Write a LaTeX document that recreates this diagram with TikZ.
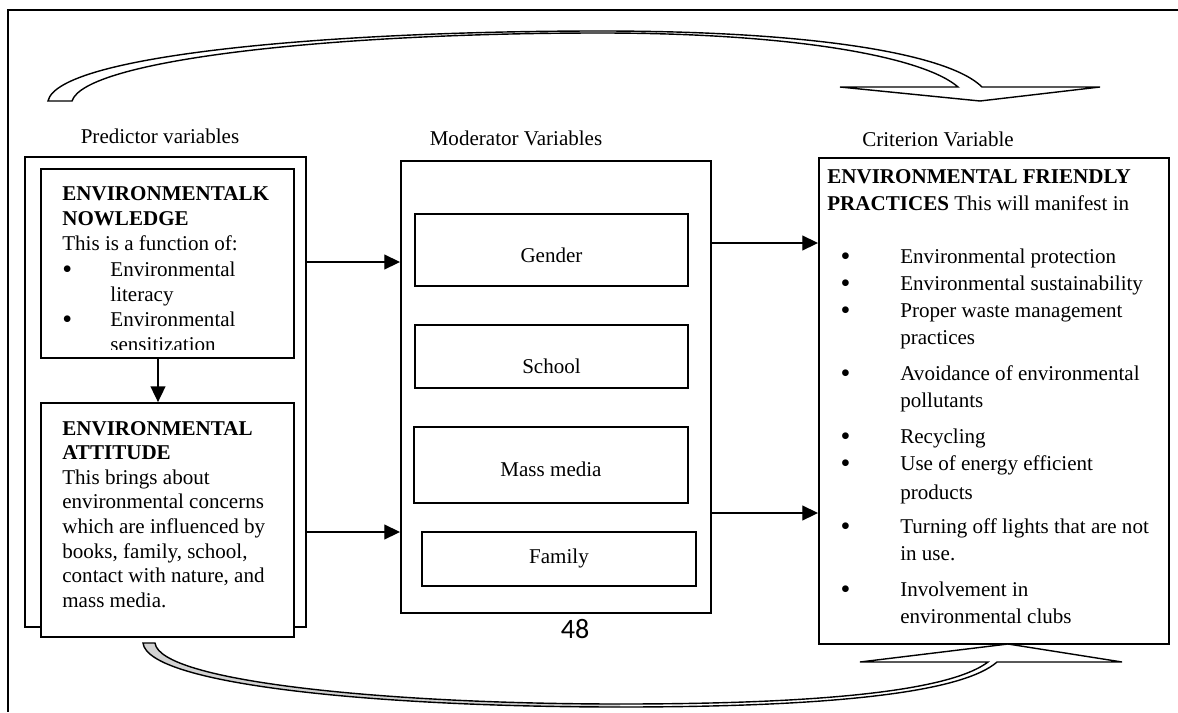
\documentclass[tikz,border=0pt]{standalone}
\usepackage{fontspec}
\setmainfont{Liberation Serif}
\newfontfamily\pagenumfont{Carlito}
\usetikzlibrary{arrows.meta, positioning}

\newcommand{\bigbul}{\raisebox{-1.2pt}{\fontsize{16}{14}\selectfont\textbullet}}
\newcommand{\kbul}{\makebox[27.4pt][l]{\bigbul}}
\newcommand{\kind}{\hspace*{27.4pt}}
\newcommand{\cbul}{\hspace*{7.6pt}\makebox[34pt][l]{\bigbul}}
\newcommand{\cind}{\hspace*{41.6pt}}

\begin{document}
\begin{tikzpicture}[
  x=0.57pt, y=-0.57pt,
  font=\fontsize{12}{14}\selectfont,
  outer/.style={rectangle, draw, line width=1.1pt, fill=white},
  inner/.style={rectangle, draw, line width=1pt, fill=white},
  txtdrop/.style={text height=#1, text depth=0pt},
  txt/.style={inner sep=0pt, align=left, anchor=north west},
  head/.style={inner sep=0pt, anchor=base},
  arrow/.style={-{Triangle[length=9pt, width=8.5pt]}, line width=0.8pt},
  bent/.style={line width=0.8pt, line join=miter},
]
  \useasboundingbox (0,0) rectangle (1178,712);

  % Frame
  \draw[line width=1pt] (1178,10) -- (8,10) -- (8,712);

  % Feedback arrow (top)
  \filldraw[bent, fill=white] (48,101) .. controls (58,55) and (330,31) .. (600,31)
    .. controls (820,31) and (950,55) .. (982,87) -- (1100,87) -- (980,101) -- (840,87)
    -- (958,87) .. controls (925,58) and (800,33) .. (600,33)
    .. controls (330,33) and (85,60) .. (72,101) -- cycle;

  % Predictor variables
  \node[head] (predlbl) at (160,143) {Predictor variables};
  \node[outer, minimum width=160.2pt, minimum height=267.9pt] (pred) at (165.5,392) {};
  \node[inner, minimum width=144.2pt, minimum height=107.7pt] (know) at (167.5,263.5) {};
  \begin{scope}
    \clip ([yshift=5.5pt]know.south west) rectangle (know.north east);
    \node[txt, font=\fontsize{12}{14.4}\selectfont] (knowtxt) at (62,186)
      {\textbf{ENVIRONMENTALK}\\ \textbf{NOWLEDGE}\\
      This is a function of:\\ \kbul Environmental\\ \kind literacy\\
      \kbul Environmental\\ \kind sensitization};
  \end{scope}
  \node[inner, minimum width=144.2pt, minimum height=133.4pt] (att) at (167.5,520) {};
  \node[txt] (atttxt) at (62,421) {\textbf{ENVIRONMENTAL}\\ \textbf{ATTITUDE}\\
    This brings about\\ environmental concerns\\ which are influenced by\\
    books, family, school,\\ contact with nature, and\\ mass media.};

  % Moderator variables
  \node[head] (moderlbl) at (516,145) {Moderator Variables};
  \node[outer, minimum width=176.7pt, minimum height=257.6pt] (moder) at (556,387) {};
  \node[inner, txtdrop=14.8pt, minimum width=155.6pt, minimum height=41pt] (gender) at (551.5,250) {Gender};
  \node[inner, txtdrop=19pt, minimum width=155.6pt, minimum height=35.9pt] (school) at (551.5,356.5) {School};
  \node[inner, txtdrop=12.6pt, minimum width=156.2pt, minimum height=43.3pt] (mass) at (551,465) {Mass media};
  \node[inner, txtdrop=4.6pt, minimum width=156.2pt, minimum height=30.8pt] (family) at (559,559) {Family};
  \node[head, font=\pagenumfont\fontsize{16}{18}\selectfont] (pagenum) at (575,638) {48};

  % Criterion variable
  \node[head] (critlbl) at (938,146) {Criterion Variable};
  \node[outer, minimum width=199.5pt, minimum height=277pt] (crit) at (994,401) {};
  \node[txt, font=\fontsize{12}{15.3}\selectfont] (crittxt) at (827,169) {%
    \textbf{ENVIRONMENTAL FRIENDLY}\\
    \textbf{PRACTICES} This will manifest in\\[15.3pt]
    \cbul Environmental protection\\
    \cbul Environmental sustainability\\
    \cbul Proper waste management\\
    \cind practices\\[5.4pt]
    \cbul Avoidance of environmental\\
    \cind pollutants\\[5.4pt]
    \cbul Recycling\\
    \cbul Use of energy efficient\\[1pt]
    \cind products\\[4.3pt]
    \cbul Turning off lights that are not\\
    \cind in use.\\[5.4pt]
    \cbul Involvement in\\
    \cind environmental clubs};

  % Feedback arrow (bottom)
  \fill[white] (143,643) .. controls (148,685) and (380,707) .. (620,707)
    .. controls (850,707) and (965,690) .. (997,662) -- (1122,662) -- (1008,644) -- (860,662)
    -- (988,662) .. controls (955,687) and (850,704) .. (620,704)
    .. controls (390,704) and (160,682) .. (155,643) -- cycle;
  \fill[gray!35] (143,643) .. controls (148,685) and (380,707) .. (620,707)
    -- (620,704) .. controls (390,704) and (160,682) .. (155,643) -- cycle;
  \draw[bent] (143,643) .. controls (148,685) and (380,707) .. (620,707)
    .. controls (850,707) and (965,690) .. (997,662) -- (1122,662) -- (1008,644) -- (860,662)
    -- (988,662) .. controls (955,687) and (850,704) .. (620,704)
    .. controls (390,704) and (160,682) .. (155,643) -- cycle;

  % Connectors
  \coordinate (kx) at (158,0);
  \coordinate (lvlA) at (0,262);
  \coordinate (lvlB) at (0,532);
  \coordinate (lvlC) at (0,243);
  \coordinate (lvlD) at (0,513);
  \draw[arrow] (kx |- know.south) -- (kx |- att.north);
  \draw[arrow] (pred.east |- lvlA) -- (moder.west |- lvlA);
  \draw[arrow] (pred.east |- lvlB) -- (moder.west |- lvlB);
  \draw[arrow] (moder.east |- lvlC) -- (crit.west |- lvlC);
  \draw[arrow] (moder.east |- lvlD) -- (crit.west |- lvlD);
\end{tikzpicture}
\end{document}
